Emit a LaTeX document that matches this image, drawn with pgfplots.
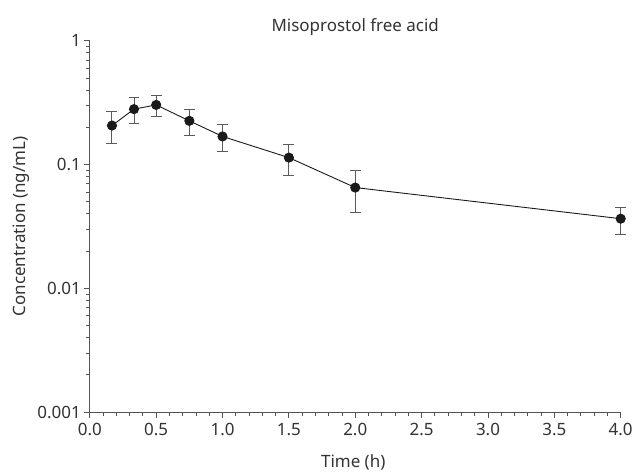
\documentclass[border=0pt]{standalone}
\usepackage{fontspec}
\setmainfont{Noto Sans}
\usepackage{pgfplots}
\pgfplotsset{compat=1.18}
\usetikzlibrary{calc}
\definecolor{txt}{HTML}{333333}
\definecolor{axc}{HTML}{555555}
\definecolor{errc}{HTML}{5A5A5A}
\definecolor{dot}{HTML}{1A1A1A}
\newcommand{\lblfont}{\fontsize{17}{20}\selectfont}

\begin{document}
\begin{tikzpicture}
\begin{axis}[
  name=ax,
  scale only axis,
  width=532pt, height=372pt,
  ymode=log,
  xmin=0, xmax=4, ymin=0.001, ymax=1,
  axis lines=left,
  axis line style={axc, line width=0.9pt, -},
  tick align=outside,
  major tick style={axc, line width=0.9pt},
  minor tick style={axc, line width=0.9pt},
  major tick length=5.5pt, minor tick length=3.5pt,
  xtick={0,0.5,...,4},
  minor xtick={0.1,0.2,0.3,0.4,0.6,0.7,0.8,0.9,1.1,1.2,1.3,1.4,1.6,1.7,1.8,1.9,
               2.1,2.2,2.3,2.4,2.6,2.7,2.8,2.9,3.1,3.2,3.3,3.4,3.6,3.7,3.8,3.9},
  ytick={0.001,0.01,0.1,1},
  yticklabels={0.001,0.01,0.1,1},
  minor ytick={0.002,0.003,0.004,0.005,0.006,0.007,0.008,0.009,
               0.02,0.03,0.04,0.05,0.06,0.07,0.08,0.09,
               0.2,0.3,0.4,0.5,0.6,0.7,0.8,0.9},
  /pgf/number format/assume math mode=true,
  tick label style={font=\lblfont, text=txt},
  xticklabel style={yshift=-2pt, /pgf/number format/.cd, fixed, fixed zerofill, precision=1},
  clip=false,
]
\addplot[dot, line width=0.9pt, mark=*, mark size=4.6pt,
  mark options={fill=dot, draw=dot},
  error bars/.cd, y dir=both, y explicit,
  error bar style={errc, line width=1pt},
  error mark options={errc, line width=1pt, mark size=5.5pt, rotate=90}]
  table[x=t, y=c, y error plus=ep, y error minus=em] {
  t      c       ep      em
  0.167  0.207   0.060   0.059
  0.333  0.281   0.065   0.066
  0.5    0.304   0.057   0.058
  0.75   0.226   0.053   0.055
  1.0    0.169   0.043   0.042
  1.5    0.114   0.031   0.032
  2.0    0.0653  0.0247  0.0244
  4.0    0.0366  0.0088  0.0091
  };
\end{axis}
\node[font=\lblfont, text=txt, anchor=base]
  at ($(ax.north west)!0.5!(ax.north east)+(0,9pt)$) {Misoprostol free acid};
\node[font=\lblfont, text=txt, anchor=center]
  at ($(ax.south west)!0.5!(ax.south east)+(-2pt,-50pt)$) {Time (h)};
\node[font=\lblfont, text=txt, anchor=center, rotate=90]
  at ($(ax.south west)!0.5!(ax.north west)+(-69pt,0)$) {Concentration (ng/mL)};
\path ($(ax.south west)+(-90pt,-60pt)$) rectangle ($(ax.north east)+(14pt,41pt)$);
\end{tikzpicture}
\end{document}
